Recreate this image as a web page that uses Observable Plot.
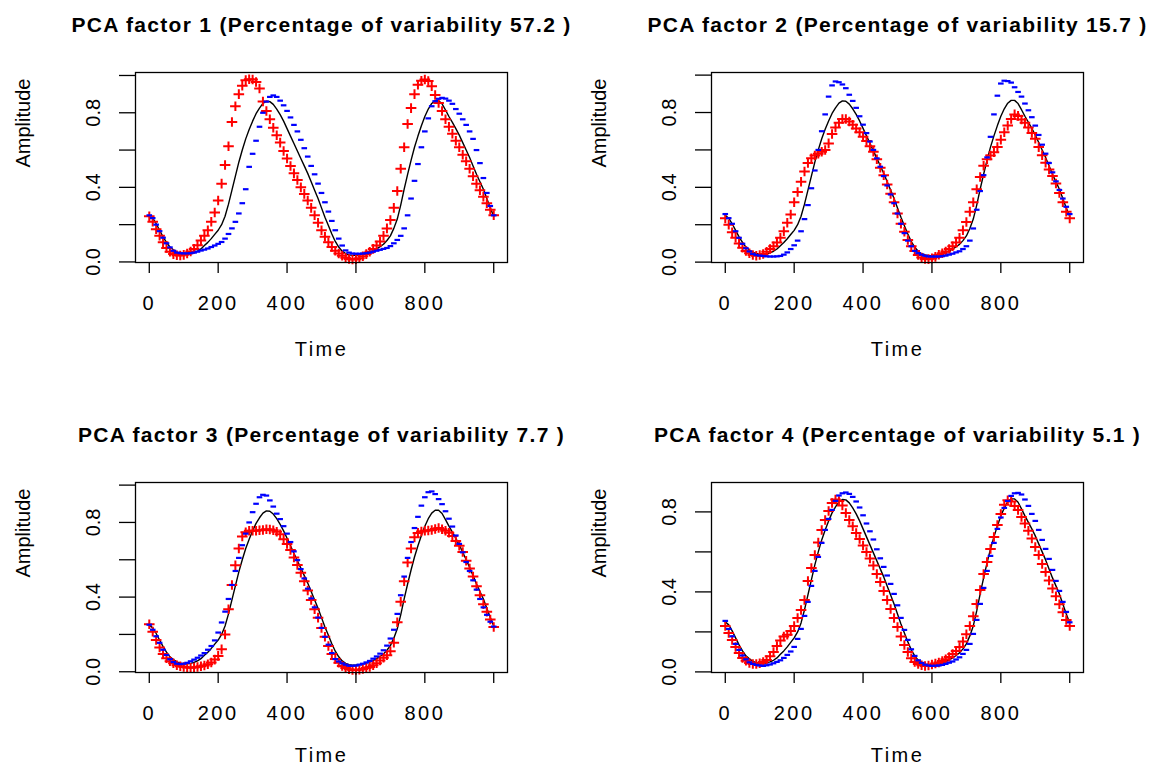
<!DOCTYPE html>
<html><head><meta charset="utf-8">
<script src="https://cdn.jsdelivr.net/npm/d3@7"></script>
<script src="https://cdn.jsdelivr.net/npm/@observablehq/plot@0.6"></script>
<style>
html,body{margin:0;padding:0;overflow:hidden;background:#fff;}
#fig{position:relative;width:1152px;height:767px;overflow:hidden;background:#fff;}
.panel{position:absolute;}
</style></head><body><div id="fig"></div>
<script>
const time = [0,10,20,30,40,50,60,70,80,90,100,110,120,130,140,150,160,170,180,190,200,210,220,230,240,250,260,270,280,290,300,310,320,330,340,350,360,370,380,390,400,410,420,430,440,450,460,470,480,490,500,510,520,530,540,550,560,570,580,590,600,610,620,630,640,650,660,670,680,690,700,710,720,730,740,750,760,770,780,790,800,810,820,830,840,850,860,870,880,890,900,910,920,930,940,950,960,970,980,990,1000];

const meanCurve = [0.25,0.235,0.205,0.17,0.135,0.105,0.08,0.065,0.053,0.046,
 0.042,0.042,0.045,0.05,0.058,0.07,0.088,0.105,0.125,0.148,
 0.17,0.2,0.245,0.31,0.385,0.46,0.535,0.6,0.66,0.71,
 0.755,0.795,0.825,0.85,0.862,0.86,0.845,0.82,0.79,0.755,
 0.715,0.675,0.635,0.595,0.555,0.515,0.475,0.43,0.385,0.34,
 0.29,0.24,0.195,0.15,0.11,0.08,0.058,0.045,0.038,0.035,
 0.036,0.038,0.042,0.046,0.052,0.06,0.07,0.082,0.095,0.115,
 0.14,0.18,0.23,0.305,0.39,0.47,0.545,0.615,0.675,0.73,
 0.78,0.82,0.85,0.865,0.865,0.848,0.815,0.78,0.748,0.715,
 0.68,0.64,0.6,0.56,0.515,0.47,0.43,0.39,0.34,0.29,
 0.245];

const plus1 = [0.245,0.215,0.175,0.14,0.105,0.075,0.055,0.042,0.036,0.035,
 0.038,0.045,0.056,0.07,0.09,0.115,0.14,0.17,0.215,0.265,
 0.33,0.42,0.52,0.62,0.75,0.835,0.9,0.945,0.975,0.98,
 0.978,0.965,0.93,0.86,0.81,0.765,0.72,0.68,0.64,0.595,
 0.555,0.515,0.475,0.44,0.4,0.365,0.33,0.29,0.25,0.21,
 0.17,0.135,0.105,0.08,0.06,0.045,0.033,0.023,0.016,0.013,
 0.015,0.02,0.03,0.042,0.055,0.07,0.088,0.11,0.14,0.18,
 0.225,0.29,0.38,0.5,0.615,0.74,0.825,0.9,0.95,0.972,
 0.978,0.97,0.942,0.895,0.852,0.81,0.765,0.725,0.687,0.65,
 0.615,0.575,0.54,0.5,0.46,0.42,0.385,0.35,0.315,0.28,
 0.25];
const minus1 = [0.25,0.235,0.2,0.165,0.13,0.1,0.078,0.06,0.05,0.047,
 0.046,0.046,0.047,0.05,0.055,0.061,0.066,0.072,0.08,0.088,
 0.097,0.107,0.125,0.15,0.18,0.215,0.26,0.315,0.39,0.51,
 0.58,0.65,0.725,0.8,0.86,0.885,0.893,0.885,0.865,0.84,
 0.81,0.775,0.735,0.7,0.655,0.61,0.565,0.515,0.47,0.42,
 0.37,0.32,0.27,0.22,0.17,0.125,0.088,0.062,0.05,0.045,
 0.044,0.044,0.045,0.047,0.05,0.055,0.06,0.065,0.07,0.075,
 0.085,0.1,0.118,0.14,0.18,0.25,0.34,0.435,0.525,0.615,
 0.7,0.77,0.835,0.862,0.875,0.88,0.876,0.865,0.848,0.82,
 0.795,0.765,0.735,0.7,0.66,0.6,0.53,0.45,0.37,0.3,
 0.25];

const plus2 = [0.234,0.2,0.16,0.13,0.1,0.077,0.06,0.048,0.038,0.034,
 0.038,0.044,0.056,0.07,0.085,0.105,0.13,0.165,0.21,0.255,
 0.32,0.375,0.43,0.485,0.53,0.555,0.57,0.58,0.59,0.6,
 0.635,0.685,0.72,0.745,0.765,0.765,0.752,0.735,0.715,0.695,
 0.67,0.648,0.62,0.59,0.55,0.505,0.465,0.415,0.365,0.32,
 0.26,0.205,0.162,0.118,0.085,0.06,0.038,0.025,0.017,0.016,
 0.02,0.028,0.039,0.048,0.057,0.07,0.085,0.105,0.13,0.17,
 0.215,0.27,0.32,0.39,0.455,0.515,0.55,0.57,0.588,0.615,
 0.655,0.695,0.73,0.765,0.79,0.782,0.763,0.745,0.72,0.69,
 0.66,0.615,0.572,0.532,0.495,0.46,0.42,0.37,0.32,0.27,
 0.234];
const minus2 = [0.257,0.235,0.205,0.165,0.13,0.098,0.074,0.057,0.044,0.038,
 0.035,0.033,0.031,0.03,0.03,0.031,0.033,0.04,0.052,0.07,
 0.09,0.115,0.165,0.23,0.305,0.395,0.49,0.6,0.7,0.79,
 0.885,0.945,0.966,0.962,0.95,0.93,0.895,0.862,0.825,0.78,
 0.735,0.69,0.645,0.6,0.555,0.51,0.46,0.41,0.362,0.315,
 0.26,0.205,0.155,0.115,0.085,0.06,0.048,0.04,0.034,0.03,
 0.03,0.03,0.03,0.032,0.035,0.04,0.045,0.052,0.058,0.07,
 0.085,0.115,0.18,0.28,0.38,0.465,0.56,0.67,0.79,0.89,
 0.955,0.97,0.968,0.96,0.935,0.91,0.885,0.848,0.812,0.775,
 0.73,0.68,0.628,0.58,0.53,0.48,0.432,0.386,0.34,0.296,
 0.257];

const plus3 = [0.255,0.215,0.17,0.13,0.095,0.072,0.056,0.045,0.035,0.029,
 0.025,0.023,0.022,0.023,0.025,0.029,0.034,0.04,0.05,0.065,
 0.085,0.12,0.2,0.335,0.465,0.57,0.66,0.725,0.748,0.755,
 0.755,0.756,0.758,0.76,0.763,0.762,0.758,0.75,0.737,0.71,
 0.685,0.652,0.612,0.572,0.53,0.485,0.435,0.385,0.335,0.29,
 0.235,0.187,0.138,0.095,0.068,0.048,0.031,0.02,0.013,0.01,
 0.009,0.011,0.015,0.02,0.025,0.035,0.045,0.06,0.075,0.088,
 0.11,0.155,0.265,0.375,0.485,0.585,0.66,0.72,0.744,0.752,
 0.755,0.757,0.76,0.765,0.77,0.763,0.755,0.745,0.728,0.7,
 0.675,0.642,0.595,0.553,0.51,0.458,0.41,0.362,0.322,0.28,
 0.24];
const minus3 = [0.252,0.225,0.19,0.155,0.118,0.09,0.067,0.052,0.043,0.041,
 0.043,0.048,0.056,0.065,0.075,0.087,0.1,0.118,0.138,0.168,
 0.21,0.264,0.322,0.39,0.465,0.54,0.61,0.678,0.74,0.8,
 0.855,0.9,0.935,0.948,0.944,0.918,0.885,0.847,0.818,0.78,
 0.74,0.695,0.645,0.598,0.55,0.5,0.445,0.393,0.345,0.29,
 0.235,0.187,0.145,0.1,0.068,0.055,0.045,0.038,0.032,0.032,
 0.033,0.038,0.043,0.05,0.058,0.07,0.082,0.097,0.115,0.14,
 0.178,0.225,0.31,0.41,0.51,0.61,0.695,0.77,0.83,0.89,
 0.935,0.962,0.966,0.952,0.925,0.898,0.86,0.82,0.778,0.73,
 0.685,0.64,0.588,0.54,0.49,0.44,0.39,0.345,0.305,0.268,
 0.242];

const plus4 = [0.23,0.195,0.16,0.125,0.095,0.07,0.056,0.045,0.04,0.04,
 0.043,0.05,0.06,0.078,0.1,0.13,0.157,0.177,0.186,0.205,
 0.23,0.27,0.31,0.36,0.455,0.52,0.585,0.647,0.71,0.76,
 0.805,0.845,0.862,0.855,0.832,0.795,0.76,0.728,0.695,0.665,
 0.632,0.6,0.567,0.532,0.49,0.45,0.405,0.36,0.315,0.27,
 0.225,0.177,0.135,0.1,0.068,0.05,0.04,0.033,0.03,0.032,
 0.037,0.042,0.047,0.055,0.063,0.075,0.09,0.105,0.124,0.152,
 0.188,0.23,0.278,0.34,0.41,0.49,0.55,0.615,0.675,0.735,
 0.79,0.836,0.858,0.852,0.83,0.81,0.775,0.742,0.706,0.667,
 0.625,0.585,0.54,0.5,0.457,0.417,0.378,0.338,0.298,0.26,
 0.23];
const minus4 = [0.255,0.215,0.178,0.14,0.11,0.082,0.063,0.048,0.04,0.035,
 0.032,0.03,0.033,0.037,0.043,0.05,0.058,0.07,0.085,0.102,
 0.125,0.165,0.215,0.28,0.35,0.43,0.505,0.575,0.645,0.71,
 0.765,0.81,0.855,0.882,0.893,0.897,0.89,0.875,0.852,0.822,
 0.783,0.742,0.703,0.662,0.613,0.568,0.525,0.482,0.44,0.39,
 0.333,0.27,0.21,0.16,0.113,0.08,0.058,0.045,0.036,0.032,
 0.03,0.031,0.032,0.035,0.04,0.046,0.052,0.062,0.073,0.09,
 0.11,0.14,0.19,0.26,0.34,0.42,0.505,0.58,0.645,0.715,
 0.772,0.82,0.855,0.88,0.893,0.895,0.887,0.862,0.83,0.79,
 0.755,0.71,0.66,0.615,0.565,0.51,0.455,0.405,0.35,0.3,
 0.248];

const factorNumbers = [1, 2, 3, 4];
const pctVariability = ["57.2", "15.7", "7.7", "5.1"];
const xTicks = [0, 200, 400, 600, 800, 1000];
const xTickLabels = [0, 200, 400, 600, 800];
const yTicks = [0, 0.2, 0.4, 0.6, 0.8, 1.0];
const yTickLabels = [0, 0.4, 0.8];
const xDomain = [-40, 1040];
const yDomains = [[-0.003, 1.016], [-0.002, 1.014], [-0.004, 1.014], [-0.003, 0.947]];
const xLabel = "Time";
const yLabel = "Amplitude";

const plusSeries = [plus1, plus2, plus3, plus4];
const minusSeries = [minus1, minus2, minus3, minus4];

const FONT = '"Liberation Sans", Arial, Helvetica, sans-serif';

const plusSymbol = {draw(ctx, size) {
  const r = Math.sqrt(size / Math.PI);
  ctx.moveTo(-r, 0); ctx.lineTo(r, 0);
  ctx.moveTo(0, -r * 0.9); ctx.lineTo(0, r * 0.9);
}};
const dashSymbol = {draw(ctx, size) {
  const r = Math.sqrt(size / Math.PI);
  ctx.moveTo(-r, 0); ctx.lineTo(r, 0);
}};

const fig = document.getElementById("fig");

factorNumbers.forEach((num, k) => {
  const row = Math.floor(k / 2), col = k % 2;
  const height = row === 0 ? 410 : 357;
  const rows = time.map((t, i) => ({t, mean: meanCurve[i], plus: plusSeries[k][i], minus: minusSeries[k][i]}));
  const yt = yTicks.filter(v => v <= yDomains[k][1]);
  const title = `PCA factor ${num} (Percentage of variability ${pctVariability[k]} )`;
  const plot = Plot.plot({
    width: 576,
    height,
    marginLeft: 135,
    marginRight: 69,
    marginTop: 72,
    marginBottom: height - 262,
    x: {domain: xDomain},
    y: {domain: yDomains[k]},
    style: {fontFamily: FONT, fontSize: "20px", color: "black", background: "white", overflow: "visible"},
    marks: [
      Plot.line(rows, {x: "t", y: "mean", stroke: "black", strokeWidth: 1.4}),
      Plot.dot(rows, {x: "t", y: "plus", symbol: plusSymbol, r: 5.3, stroke: "#ff0000", fill: "none", strokeWidth: 2}),
      Plot.dot(rows, {x: "t", y: "minus", symbol: dashSymbol, r: 2.8, stroke: "#0000ff", fill: "none", strokeWidth: 2.2}),
      Plot.frame({stroke: "black", strokeWidth: 1.3}),
      Plot.axisX(xTicks, {tickSize: 11, tickPadding: 22, strokeWidth: 1.3, tickFormat: d => xTickLabels.includes(d) ? String(d) : "", label: null, fontSize: 20}),
      Plot.axisY(yt, {tickSize: 16, strokeWidth: 1.3, tickFormat: () => "", label: null}),
      Plot.text(yt.filter(v => yTickLabels.includes(v)), {y: d => d, frameAnchor: "left", dx: -42, rotate: -90, text: d => d.toFixed(1), lineAnchor: "middle", textAnchor: "middle", fontSize: 20, fill: "black"}),
      Plot.text([xLabel], {frameAnchor: "bottom", dy: row === 0 ? 87 : 83, lineAnchor: "middle", fontSize: 20, fill: "black"}),
      Plot.text([yLabel], {frameAnchor: "left", dx: -112, rotate: -90, lineAnchor: "middle", fontSize: 20, fill: "black"}),
      Plot.text([title], {frameAnchor: "top", dy: -47, lineAnchor: "middle", fontWeight: "bold", fontSize: 21, fill: "black"})
    ]
  });
  plot.querySelectorAll("text").forEach(t => {
    const s = t.textContent;
    if (s === title) t.style.letterSpacing = "1.3px";
    else if (s === xLabel || /^\d+$/.test(s)) t.style.letterSpacing = "2.5px";
  });
  const div = document.createElement("div");
  div.className = "panel";
  div.style.left = (col * 576) + "px";
  div.style.top = (row * 410) + "px";
  div.appendChild(plot);
  fig.appendChild(div);
});
</script>
</body></html>
